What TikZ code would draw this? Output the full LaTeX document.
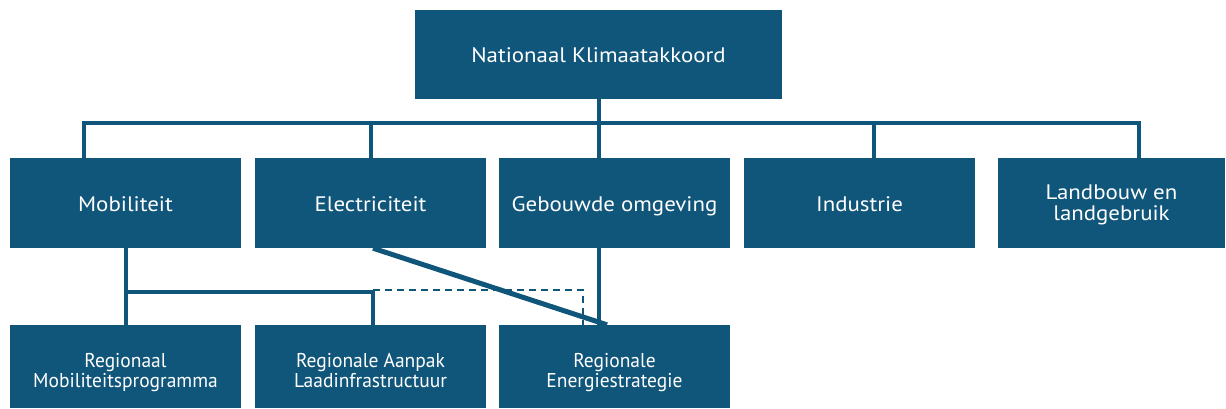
\documentclass[tikz,border=0pt]{standalone}
\usepackage{fontspec}
\setmainfont{PT Sans}
\newfontfamily\breedfont[FakeStretch=1.09]{PT Sans}
\newfontfamily\smalfont[FakeStretch=0.975]{PT Sans}
\usetikzlibrary{calc,positioning}

\definecolor{rijksblauw}{HTML}{10557A}

\begin{document}
\begin{tikzpicture}[x=1pt,y=-1pt]
 \tikzstyle{box}   = [fill=rijksblauw,text=white,inner sep=0pt,align=center];
 \tikzstyle{boxbig} = [box,minimum width=231,minimum height=90,text height=16.5,text depth=0,
                       font=\breedfont\fontsize{21}{21}\selectfont];
 \tikzstyle{boxsmall} = [box,minimum width=231,minimum height=83,text height=42.4,text depth=0,
                         font=\smalfont\fontsize{20}{20.4}\selectfont];
 \tikzstyle{link}  = [draw=rijksblauw,line width=4.5];
 \tikzstyle{linkdash} = [draw=rijksblauw,line width=2.5,dash pattern=on 7 off 5];

 \useasboundingbox (0,0) rectangle (1226,409);

 %% top
 \node[boxbig,minimum width=367,minimum height=89,name=nka] at (598.5,54.5) {Nationaal Klimaatakkoord};

 %% sectoren
 \node[boxbig,name=mob]    at (125.5,203) {Mobiliteit};
 \node[boxbig,name=elec]   at (370.5,203) {Electriciteit};
 \node[boxbig,name=gebouw] at (614.5,203) {Gebouwde omgeving};
 \node[boxbig,name=ind]    at (859.5,203) {Industrie};
 \node[boxbig,minimum width=227,text height=34,name=lb] at (1111.5,203) {Landbouw en\\landgebruik};

 %% regionaal
 \node[boxsmall,name=rmp] at (125.5,366.5) {Regionaal\\Mobiliteitsprogramma};
 \node[boxsmall,name=ral] at (370.5,366.5) {Regionale Aanpak\\Laadinfrastructuur};
 \node[boxsmall,name=res] at (614.5,366.5) {Regionale\\Energiestrategie};

 %% bus
 \coordinate (bus) at (599,123);
 \draw[link] ([xshift=-41.5]mob.north) |- (bus) -| ([xshift=27.5]lb.north);
 \draw[link] ([xshift=0.5]nka.south) -- ([xshift=-15.5]gebouw.north);
 \draw[link] ([xshift=0.5]elec.north) -- ([xshift=0.5]elec.north |- bus);
 \draw[link] ([xshift=14.5]ind.north) -- ([xshift=14.5]ind.north |- bus);

 %% onderste laag
 \coordinate (split) at (126,292);
 \draw[link] ([xshift=0.5]mob.south) -- ([xshift=0.5]rmp.north);
 \draw[link] (split) -| ([xshift=2.5]ral.north);
 \draw[linkdash] ($([xshift=2.5]ral.north)+(0,-35)$) -| ([xshift=-31.5]res.north);
 \draw[link] ([xshift=-15.5]gebouw.south) -- ([xshift=-15.5]res.north);
 \draw[link,line width=5] ([xshift=2.5]elec.south) -- ([xshift=-7.5]res.north);

\end{tikzpicture}
\end{document}
